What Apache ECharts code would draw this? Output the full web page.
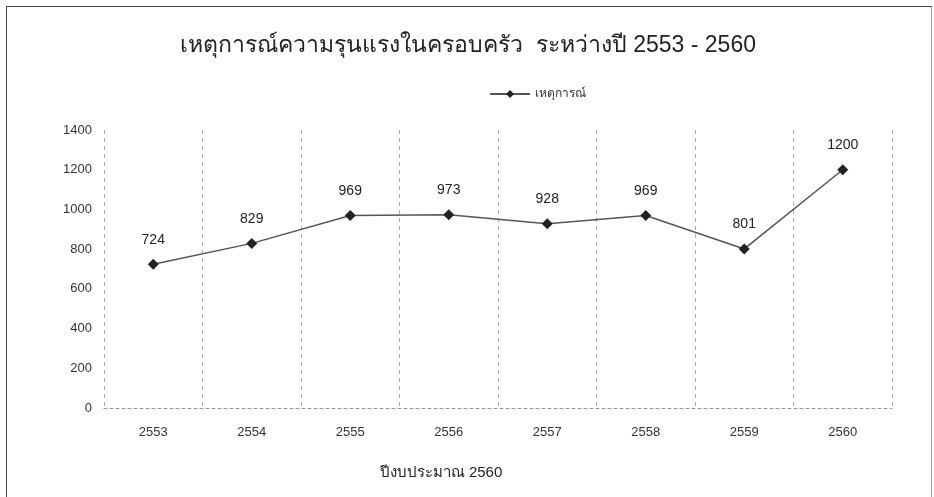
<!DOCTYPE html>
<html>
<head>
<meta charset="utf-8">
<script src="https://cdn.jsdelivr.net/npm/echarts@6/dist/echarts.min.js"></script>
<style>
html, body { margin: 0; padding: 0; background: #fff; }
#chart { position: absolute; left: 6px; top: 6px; width: 926px; height: 491px; border-left: 1px solid #444; border-top: 1px solid #444; border-right: 1px solid #999; box-sizing: border-box; }
</style>
</head>
<body>
<div id="chart"></div>
<script>
const years = ['2553', '2554', '2555', '2556', '2557', '2558', '2559', '2560']
const incidents = [724, 829, 969, 973, 928, 969, 801, 1200]
const chartTitle = 'เหตุการณ์ความรุนแรงในครอบครัว  ระหว่างปี 2553 - 2560'
const seriesName = 'เหตุการณ์'
const axisTitle = 'ปีงบประมาณ 2560'

const myChart = echarts.init(document.getElementById('chart'))
const option = {
  textStyle: { fontFamily: 'sans-serif' },
  title: [
    {
      text: chartTitle,
      left: 456,
      top: 22,
      textAlign: 'center',
      textStyle: { fontSize: 23, fontWeight: 'normal', color: '#222' }
    },
    {
      text: axisTitle,
      left: 429,
      top: 453,
      textAlign: 'center',
      textStyle: { fontSize: 15, fontWeight: 'normal', color: '#222' }
    }
  ],
  legend: {
    data: [seriesName],
    top: 76,
    left: 477,
    itemWidth: 40,
    itemHeight: 10,
    textStyle: { fontSize: 12, color: '#333' }
  },
  grid: { left: 97, right: 39, top: 123, bottom: 89 },
  xAxis: {
    type: 'category',
    data: years,
    axisLine: { lineStyle: { color: '#999', type: [3, 3], width: 1 } },
    axisTick: { show: false },
    axisLabel: { color: '#333', fontSize: 13, margin: 18 },
    splitLine: { show: true, interval: 0, lineStyle: { color: '#aaa', type: [4, 4] } },
    boundaryGap: true
  },
  yAxis: {
    type: 'value',
    min: 0,
    max: 1400,
    interval: 200,
    axisLine: { show: false },
    axisTick: { show: false },
    splitLine: { show: false },
    axisLabel: { color: '#333', fontSize: 13, margin: 12, formatter: v => String(v) }
  },
  series: [
    {
      name: seriesName,
      type: 'line',
      data: incidents,
      symbol: 'diamond',
      symbolSize: 11,
      itemStyle: { color: '#222' },
      lineStyle: { color: '#555', width: 1.5 },
      label: { show: true, position: 'top', distance: 12, fontSize: 14, color: '#222' }
    }
  ]
}
myChart.setOption(option, true)
</script>
</body>
</html>
